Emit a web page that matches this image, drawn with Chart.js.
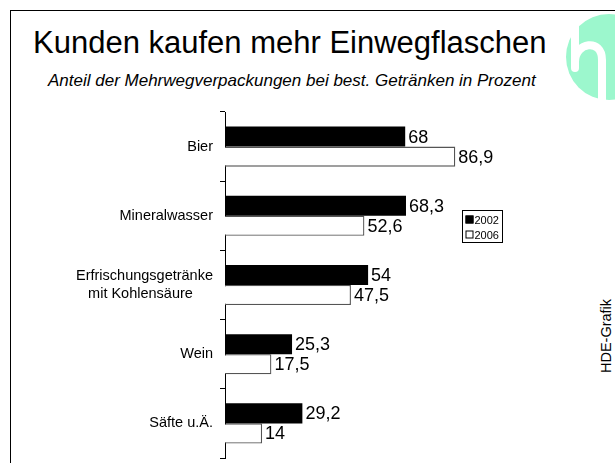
<!DOCTYPE html>
<html>
<head>
<meta charset="utf-8">
<script src="https://cdn.jsdelivr.net/npm/chart.js@4/dist/chart.umd.min.js"></script>
<style>
    html, body { margin: 0; padding: 0; background: #fff; }
    body { width: 615px; height: 463px; position: relative; overflow: hidden; font-family: 'Liberation Sans', Arial, sans-serif; }
    #frame { position: absolute; left: 10px; top: 10px; width: 620px; height: 470px; border-left: 1px solid #000; border-top: 1px solid #000; }
    #title { position: absolute; left: 33px; top: 27px; font-size: 31px; line-height: 31px; color: #000; white-space: nowrap; }
    #subtitle { position: absolute; left: 48px; top: 72px; font-size: 17px; line-height: 17px; font-style: italic; color: #000; white-space: nowrap; }
    #logo { position: absolute; left: 0; top: 0; }
    #credit { position: absolute; left: 606px; top: 336px; transform: translate(-50%, -50%) rotate(-90deg); font-size: 14.5px; white-space: nowrap; }
    #wrap { position: absolute; left: 0; top: 0; width: 615px; height: 463px; }
    canvas { display: block; }
</style>
</head>
<body>
<div id="frame"></div>
<svg id="logo" width="615" height="463">
    <circle cx="609" cy="57" r="43" fill="#9cf7cd"></circle>
    <path d="M571,14 L579,14 L579,68 A4,4 0 0 1 571,68 Z" fill="#fff"></path>
    <path d="M575,62 C575,42 602,38 602,60 L602,104" fill="none" stroke="#fff" stroke-width="8"></path>
</svg>
<div id="title">Kunden kaufen mehr Einwegflaschen</div>
<div id="subtitle">Anteil der Mehrwegverpackungen bei best. Getränken in Prozent</div>
<div id="credit">HDE-Grafik</div>
<div id="wrap"><canvas id="chart" width="615" height="463"></canvas></div>
<script>
// Daten
const categories = ['Bier', 'Mineralwasser', ['Erfrischungsgetränke', 'mit Kohlensäure     '], 'Wein', 'Säfte u.Ä.'];
const years = ['2002', '2006'];
const values2002 = [68, 68.3, 54, 25.3, 29.2];
const values2006 = [86.9, 52.6, 47.5, 17.5, 14];

const FONT = "'Liberation Sans', Arial, sans-serif";

// Werte neben die Balken schreiben
const valueLabels = {
    id: 'valueLabels',
    afterDatasetsDraw(chart) {
        const ctx = chart.ctx;
        ctx.save();
        ctx.font = '18px ' + FONT;
        ctx.fillStyle = '#000';
        ctx.textAlign = 'left';
        ctx.textBaseline = 'middle';
        chart.data.datasets.forEach((ds, i) => {
            chart.getDatasetMeta(i).data.forEach((bar, j) => {
                const txt = String(ds.data[j]).replace('.', ',');
                ctx.fillText(txt, bar.x + 3, bar.y + 1);
            });
        });
        ctx.restore();
    }
};

// kleine Legende im Diagramm
const boxLegend = {
    id: 'boxLegend',
    afterDraw(chart) {
        const ctx = chart.ctx;
        const x = 462.5, y = 210.5, w = 40, h = 32;
        ctx.save();
        ctx.fillStyle = '#fff';
        ctx.fillRect(x, y, w, h);
        ctx.strokeStyle = '#000';
        ctx.lineWidth = 1;
        ctx.strokeRect(x, y, w, h);
        ctx.font = '11px ' + FONT;
        ctx.textBaseline = 'middle';
        chart.data.datasets.forEach((ds, i) => {
            const cy = y + 9 + i * 15;
            ctx.fillStyle = ds.backgroundColor;
            ctx.fillRect(x + 3, cy - 4, 8, 8);
            ctx.strokeStyle = '#000';
            ctx.strokeRect(x + 3.5, cy - 3.5, 7, 7);
            ctx.fillStyle = '#000';
            ctx.fillText(ds.label, x + 12, cy + 1);
        });
        ctx.restore();
    }
};

new Chart(document.getElementById('chart'), {
    type: 'bar',
    data: {
        labels: categories,
        datasets: [
            { label: years[0], data: values2002, backgroundColor: '#000', borderWidth: 0 },
            { label: years[1], data: values2006, backgroundColor: '#fff', borderColor: '#555', borderWidth: 1.3 }
        ]
    },
    options: {
        indexAxis: 'y',
        responsive: false,
        animation: false,
        layout: { padding: { top: 112, bottom: 5, right: 125, left: 0 } },
        categoryPercentage: 0.58,
        barPercentage: 1,
        plugins: {
            legend: { display: false },
            tooltip: { enabled: false }
        },
        scales: {
            x: { display: false, min: 0, max: 100 },
            y: {
                afterFit(scale) {
                    scale.width = 225;
                    scale.paddingTop = 0;
                    scale.paddingBottom = 0;
                },
                border: { display: true, color: '#000', width: 1 },
                grid: { display: true, drawOnChartArea: false, drawTicks: true, tickLength: 5, color: '#000', offset: true },
                ticks: { color: '#000', padding: 7, font: { family: FONT, size: 14.5, lineHeight: 1.2 } }
            }
        }
    },
    plugins: [valueLabels, boxLegend]
});
</script>
</body>
</html>
